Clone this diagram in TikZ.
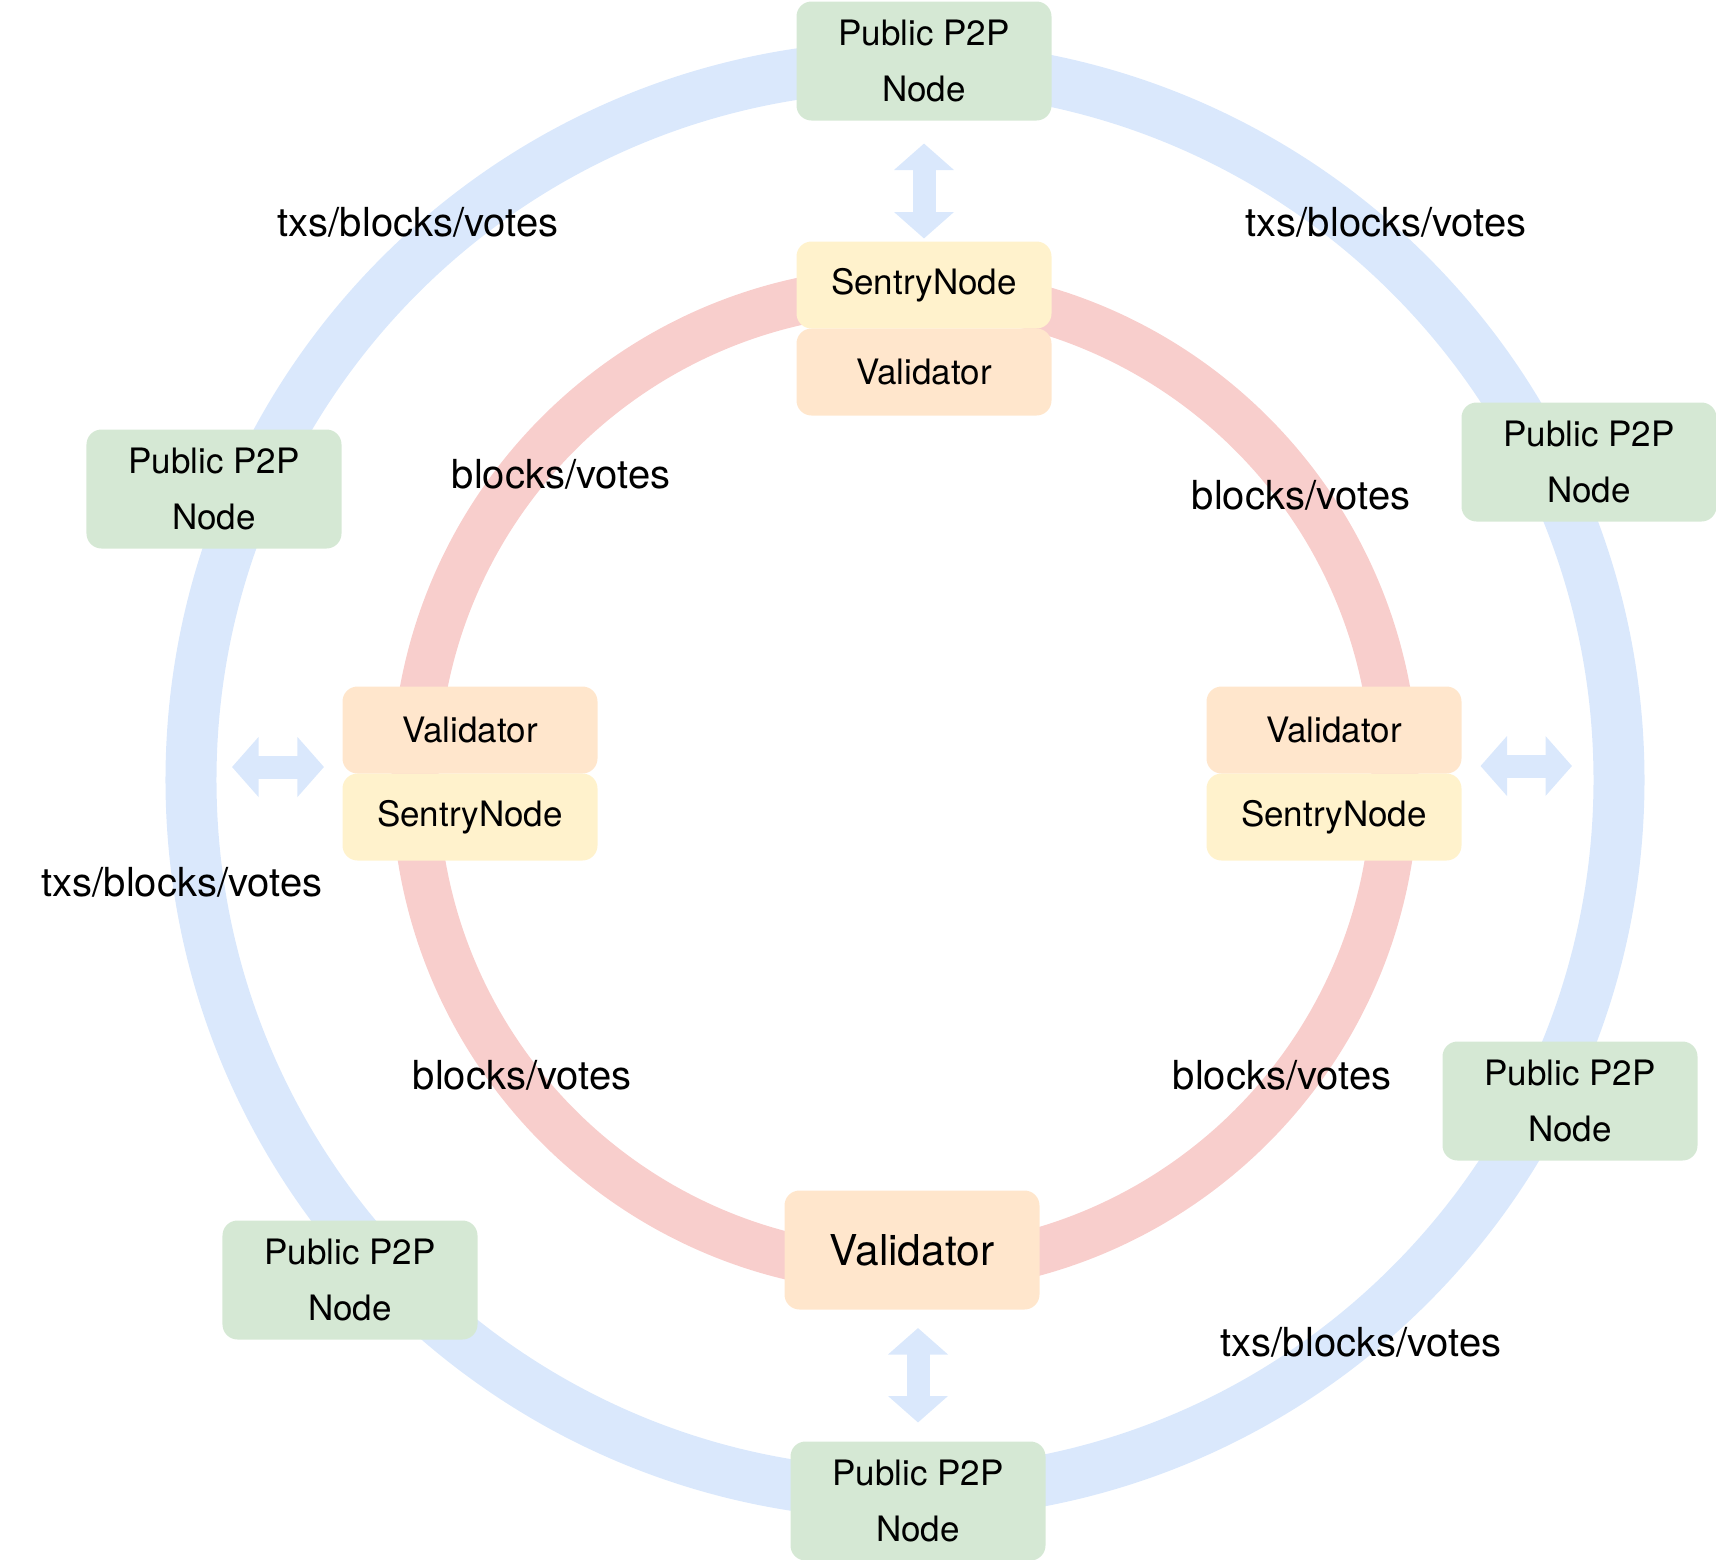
\documentclass[tikz,border=0pt]{standalone}
\usepackage{fontspec}
\setmainfont{TeX Gyre Heros}
\usetikzlibrary{positioning,arrows.meta}

\definecolor{peergreen}{HTML}{D5E8D4}
\definecolor{sentryyellow}{HTML}{FFF2CC}
\definecolor{valorange}{HTML}{FFE6CC}
\definecolor{ringred}{HTML}{F8CECC}
\definecolor{ringblue}{HTML}{DAE8FC}

\begin{document}
\begin{tikzpicture} [x = 0.4pt, y = -0.4pt, node distance = 0pt,
  box/.style = {rounded corners = 6pt, outer sep = 0pt, minimum width = 102pt, minimum height = 34.8pt,
    font = \fontsize{14}{16.8}\selectfont},
  peer/.style = {box, fill = peergreen, minimum height = 47.6pt, align = center,
    font = \fontsize{14}{22.4}\selectfont},
  sentry/.style = {box, fill = sentryyellow},
  validator/.style = {box, fill = valorange},
  lbl/.style = {font = \fontsize{16}{19}\selectfont},
  fatarrow/.style = {draw = ringblue, line width = 9.2pt,
    {Triangle[width = 23.4pt, length = 10.6pt]}-{Triangle[width = 23.4pt, length = 10.6pt]}}]

\useasboundingbox (0,0) rectangle (1716,1560);

\coordinate (hub) at (905,780);
\draw [ringblue, line width = 20.4pt] (hub) circle [radius = 285.6pt];
\draw [ringred, line width = 18.8pt] (hub) circle [radius = 196pt];

\node [peer] (p2pT) at (924,61) {Public P2P\\Node};
\node [peer] (p2pNE) at (1589,462) {Public P2P\\Node};
\node [peer] (p2pW) at (214,489) {Public P2P\\Node};
\node [peer] (p2pSE) at (1570,1101) {Public P2P\\Node};
\node [peer] (p2pSW) at (350,1280) {Public P2P\\Node};
\node [peer] (p2pB) at (918,1501) {Public P2P\\Node};

\node [sentry] (sentT) at (924,285) {SentryNode};
\node [validator] (valT) [below = of sentT] {Validator};

\node [validator] (valL) at (470,730) {Validator};
\node [sentry] (sentL) [below = of valL] {SentryNode};

\node [validator] (valR) at (1334,730) {Validator};
\node [sentry] (sentR) [below = of valR] {SentryNode};

\node [validator, minimum height = 47.6pt, font = \fontsize{17}{20}\selectfont] (valB) at (912,1250) {Validator};

\coordinate (tipW) at (232,767);
\coordinate (tipE) at (1572,766);

\draw [fatarrow, shorten <= 9.2pt, shorten >= 1.2pt] (p2pT) -- (sentT);
\draw [fatarrow, shorten >= 7.4pt] (tipW) -- (tipW -| valL.west);
\draw [fatarrow, shorten <= 7.6pt] (tipE -| valR.east) -- (tipE);
\draw [fatarrow, shorten <= 7.4pt, shorten >= 7.6pt] (p2pB.north |- valB.south) -- (p2pB.north);

\node [lbl] (txsNW) at (418,222) {txs/blocks/votes};
\node [lbl] (txsNE) at (1386,222) {txs/blocks/votes};
\node [lbl] (txsW) at (182,882) {txs/blocks/votes};
\node [lbl] (txsSE) at (1361,1342) {txs/blocks/votes};

\node [lbl] (bvNW) at (561,474) {blocks/votes};
\node [lbl] (bvNE) at (1301,495) {blocks/votes};
\node [lbl] (bvSW) at (522,1075) {blocks/votes};
\node [lbl] (bvSE) at (1282,1075) {blocks/votes};

\end{tikzpicture}
\end{document}
